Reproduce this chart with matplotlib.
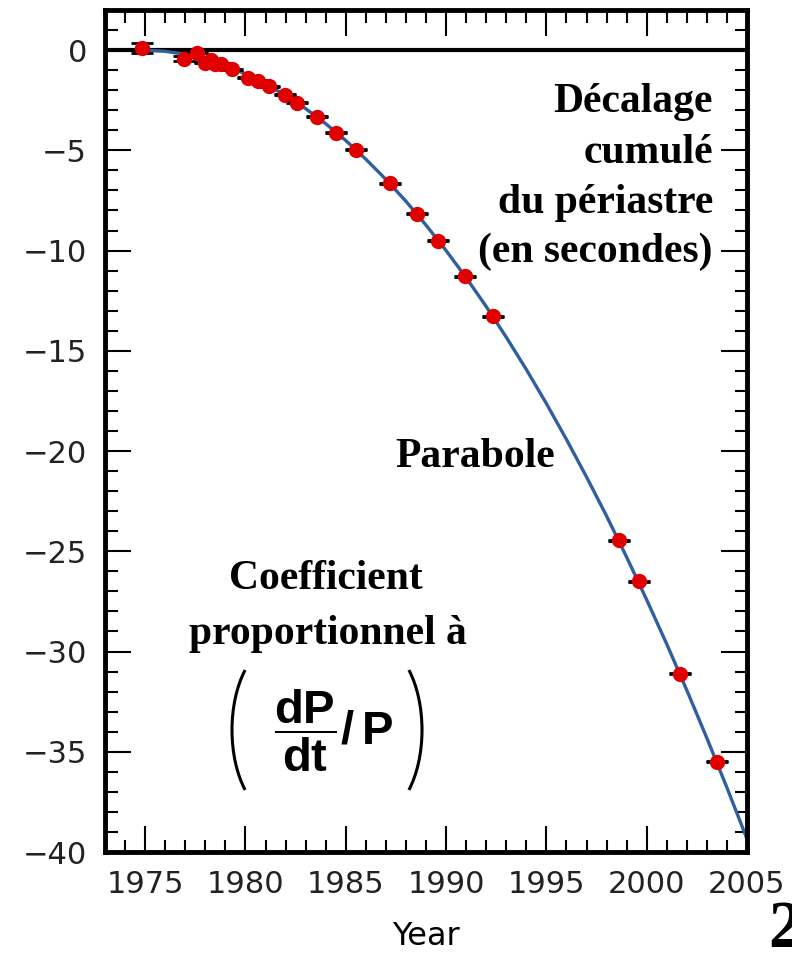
import numpy as np
import matplotlib
matplotlib.use('Agg')
import matplotlib.pyplot as plt
from matplotlib.ticker import MultipleLocator
from matplotlib.patches import Arc
from matplotlib.transforms import IdentityTransform

plt.rcParams.update({
    'font.family': ['DejaVu Sans'],
    'mathtext.fontset': 'custom',
    'mathtext.bf': 'Liberation Sans:bold',
    'mathtext.rm': 'Liberation Sans',
    'mathtext.fallback': 'cm',
})

years = [1974.85, 1976.95, 1977.58, 1978.0, 1978.28, 1978.5, 1978.78, 1979.33,
         1980.12, 1980.62, 1981.17, 1981.95, 1982.58, 1983.58, 1984.5, 1985.5,
         1987.2, 1988.57, 1989.62, 1990.95, 1992.33, 1998.6, 1999.6, 2001.67,
         2003.48]
shift = [0.1, -0.42, -0.13, -0.63, -0.5, -0.67, -0.67, -0.95,
         -1.37, -1.53, -1.8, -2.22, -2.63, -3.33, -4.12, -4.97,
         -6.65, -8.17, -9.5, -11.28, -13.28, -24.45, -26.5, -31.1,
         -35.5]
shift_err = [0.25, 0.12] + [0.03] * 23

# ---- parabola drawn through the data (read at each year) ----
curve_years = list(range(1975, 2006))
curve_shift = [0.0, -0.06, -0.21, -0.45, -0.77, -1.18, -1.68, -2.26, -2.92,
               -3.67, -4.51, -5.44, -6.45, -7.54, -8.73, -10.00, -11.35,
               -12.79, -14.32, -15.93, -17.63, -19.42, -21.29, -23.24, -25.29,
               -27.42, -29.63, -31.93, -34.32, -36.79, -39.35]

W, H = 792, 956
fig = plt.figure(figsize=(W / 100, H / 100), dpi=100)
ax = fig.add_axes([105 / W, 1 - 852 / H, (747 - 105) / W, (852 - 10) / H])

ax.axhline(0, color='black', lw=3, zorder=1)
ax.plot(curve_years, curve_shift, color='#2f5f9e', lw=2.4, zorder=2)
ax.errorbar(years, shift, yerr=shift_err, fmt='none', ecolor='black',
            elinewidth=1.5, capsize=8, capthick=2, zorder=3)
ax.plot(years, shift, 'o', color='#e00000', ms=10, mec='#e00000', zorder=4)

ax.set_xlim(1973, 2005)
ax.set_ylim(-40, 2)
ax.xaxis.set_major_locator(MultipleLocator(5))
ax.xaxis.set_minor_locator(MultipleLocator(1))
ax.yaxis.set_major_locator(MultipleLocator(5))
ax.yaxis.set_minor_locator(MultipleLocator(1))
ax.tick_params(which='both', direction='in', top=True, right=True,
               width=1.5, color='black', labelsize=22, labelcolor='#222222')
ax.tick_params(which='major', length=19, pad=13)
ax.tick_params(which='minor', length=9)
for sp in ax.spines.values():
    sp.set_linewidth(3.5)
ax.set_xlabel('Year', fontsize=23, labelpad=16)

serif = dict(family=['Liberation Serif', 'DejaVu Serif'], weight='bold',
             fontsize=30, color='black')

def px(x, y):
    # pixel position in the picture -> data coordinates
    return 1973 + (x - 106) / 20.0, (50 - y) / 20.0

for txt, yb in [('Décalage', 112), ('cumulé', 163), ('du périastre', 213),
                ('(en secondes)', 261)]:
    ax.text(*px(712, yb), txt, ha='right', va='baseline', **serif)

ax.text(*px(475, 466), 'Parabole', ha='center', va='baseline', **serif)
ax.text(*px(326, 588), 'Coefficient', ha='center', va='baseline', **serif)
ax.text(*px(328, 642), 'proportionnel à', ha='center', va='baseline', **serif)
ax.text(*px(334, 729), r'$\dfrac{\mathbf{dP}}{\mathbf{dt}}\mathbf{/\,P}$',
        ha='center', va='center', fontsize=34)

# large thin brackets around the ratio (pixel coordinates, origin bottom-left)
for cx, t1, t2 in [(277, 118, 242), (377, -62, 62)]:
    fig.add_artist(Arc((cx, H - 730), 90, 170, theta1=t1, theta2=t2,
                       lw=2.2, color='black', transform=IdentityTransform()))

fig.text(768 / W, 1 - 947 / H, '2', ha='left', va='baseline',
         family=['Liberation Serif'], weight='bold', fontsize=48)

fig.savefig('out.png', dpi=100)
